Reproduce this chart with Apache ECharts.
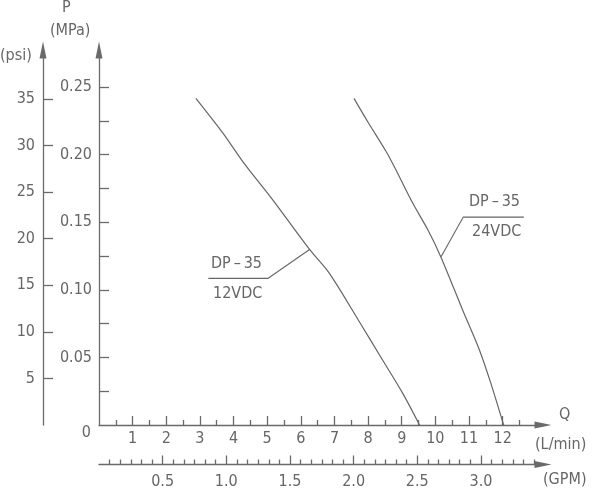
<!DOCTYPE html>
<html><head><meta charset="utf-8">
<script src="https://cdn.jsdelivr.net/npm/echarts@6/dist/echarts.min.js"></script>
<style>html,body{margin:0;padding:0;background:#fff}#c{width:600px;height:495px}</style>
</head><body><div id="c"></div>
<script>
// ---- data ----
const flow12 = [2.88, 3.69, 4.28, 5.17, 6.26, 6.85, 7.74, 8.43, 9.03, 9.53];          // L/min
const pres12 = [0.2416, 0.2157, 0.1947, 0.1664, 0.1299, 0.1122, 0.0764, 0.0481, 0.0234, 0]; // MPa
const flow24 = [7.58, 7.99, 8.54, 8.78, 9.33, 9.78, 10.16, 10.81, 11.31, 11.65, 12.03];
const pres24 = [0.2416, 0.2243, 0.2021, 0.1910, 0.1640, 0.1442, 0.1245, 0.0851, 0.0555, 0.0308, 0];
const leader12 = [[3.25, 0.1085], [5.03, 0.1085], [6.27, 0.1300]];
const leader24 = [[12.63, 0.1538], [10.83, 0.1538], [10.17, 0.1245]];
const lpmTicks = [1, 2, 3, 4, 5, 6, 7, 8, 9, 10, 11, 12];
const lpmHalfTicks = [0.5, 1.5, 2.5, 3.5, 4.5, 5.5, 6.5, 7.5, 8.5, 9.5, 10.5, 11.5, 12.5];
const gpmTicks = [0.5, 1.0, 1.5, 2.0, 2.5, 3.0];
const mpaLabels = [0, 0.05, 0.10, 0.15, 0.20, 0.25];
const mpaTicks = [0.025, 0.05, 0.075, 0.10, 0.125, 0.15, 0.175, 0.20, 0.225, 0.25];
const psiTicks = [5, 10, 15, 20, 25, 30, 35];

// ---- layout / style ----
const X_MAX = 13.2, Y_MAX = 0.2774, LPM_PER_GPM = 3.785, PSI_PER_MPA = 145.038;
const AX = '#6a6a6a', TX = '#666', FONT = '"Liberation Sans Narrow","DejaVu Sans Condensed","Liberation Sans",sans-serif';
const gpmMinor = [];
for (let k = 1; k <= 41; k++) { const v = k / 12; if (k % 6 !== 0 && v < X_MAX / LPM_PER_GPM) gpmMinor.push(v); }

const lineAx = (arrow) => ({ show: true, onZero: false, lineStyle: { color: AX, width: 1.3 },
  symbol: arrow ? ['none', 'triangle'] : 'none', symbolSize: [7, 17] });
const lbl = (extra) => Object.assign({ color: TX, fontSize: 16, fontFamily: FONT }, extra);
const tickStyle = { color: AX, width: 1.3 };

const chart = echarts.init(document.getElementById('c'), null, { renderer: 'canvas' });
chart.setOption({
  backgroundColor: '#fff',
  animation: false,
  grid: [
    { left: 99, top: 50, width: 444, height: 375, containLabel: false },
    { left: 99, top: 440, width: 444, height: 24.5, containLabel: false }
  ],
  xAxis: [
    { type: 'value', gridIndex: 0, min: 0, max: X_MAX, position: 'bottom', axisLine: lineAx(true),
      axisTick: { show: true, inside: true, length: 9, customValues: lpmTicks, lineStyle: tickStyle },
      axisLabel: lbl({ customValues: lpmTicks, margin: 6 }), splitLine: { show: false } },
    { type: 'value', gridIndex: 0, min: 0, max: X_MAX, position: 'bottom', axisLine: { show: false },
      axisTick: { show: true, inside: true, length: 5, customValues: lpmHalfTicks, lineStyle: tickStyle },
      axisLabel: { show: false }, splitLine: { show: false } },
    { type: 'value', gridIndex: 1, min: 0, max: X_MAX / LPM_PER_GPM, position: 'bottom', axisLine: lineAx(true),
      axisTick: { show: true, inside: true, length: 9, customValues: gpmTicks, lineStyle: tickStyle },
      axisLabel: lbl({ customValues: gpmTicks, margin: 9, formatter: v => v.toFixed(1) }), splitLine: { show: false } },
    { type: 'value', gridIndex: 1, min: 0, max: X_MAX / LPM_PER_GPM, position: 'bottom', axisLine: { show: false },
      axisTick: { show: true, inside: true, length: 5, customValues: gpmMinor, lineStyle: tickStyle },
      axisLabel: { show: false }, splitLine: { show: false } }
  ],
  yAxis: [
    { type: 'value', gridIndex: 0, min: 0, max: Y_MAX, position: 'left', axisLine: lineAx(true),
      axisTick: { show: true, inside: true, length: 10, customValues: mpaTicks, lineStyle: tickStyle },
      axisLabel: lbl({ customValues: mpaLabels, margin: 7,
        formatter: v => v === 0 ? '{o|0}' : v.toFixed(2),
        rich: { o: { color: TX, fontSize: 16, fontFamily: FONT, padding: [15, 1, 0, 0] } } }),
      splitLine: { show: false } },
    { type: 'value', gridIndex: 0, min: 0, max: Y_MAX * PSI_PER_MPA, position: 'left', offset: 56, axisLine: lineAx(true),
      axisTick: { show: true, inside: true, length: 10, customValues: psiTicks, lineStyle: tickStyle },
      axisLabel: lbl({ customValues: psiTicks, margin: 8 }), splitLine: { show: false } },
    { type: 'value', gridIndex: 1, min: 0, max: 1, show: false }
  ],
  series: [
    { type: 'line', xAxisIndex: 0, yAxisIndex: 0, smooth: 0.3, showSymbol: false, symbol: 'none',
      lineStyle: { color: '#666', width: 1.2 }, data: flow12.map((q, i) => [q, pres12[i]]) },
    { type: 'line', xAxisIndex: 0, yAxisIndex: 0, smooth: 0.3, showSymbol: false, symbol: 'none',
      lineStyle: { color: '#666', width: 1.2 }, data: flow24.map((q, i) => [q, pres24[i]]) },
    { type: 'line', xAxisIndex: 0, yAxisIndex: 0, showSymbol: false, symbol: 'none',
      lineStyle: { color: '#666', width: 1.1 }, data: leader12 },
    { type: 'line', xAxisIndex: 0, yAxisIndex: 0, showSymbol: false, symbol: 'none',
      lineStyle: { color: '#666', width: 1.1 }, data: leader24 }
  ],
  graphic: [
    { type: 'text', left: 62, top: 0, style: { text: 'P', fill: TX, font: '16px ' + FONT } },
    { type: 'text', left: 50, top: 23, style: { text: '(MPa)', fill: TX, font: '16px ' + FONT } },
    { type: 'text', left: 0, top: 48, style: { text: '(psi)', fill: TX, font: '16px ' + FONT } },
    { type: 'text', left: 559, top: 407, style: { text: 'Q', fill: TX, font: '16px ' + FONT } },
    { type: 'text', left: 535, top: 437, style: { text: '(L/min)', fill: TX, font: '16px ' + FONT } },
    { type: 'text', left: 543, top: 472, style: { text: '(GPM)', fill: TX, font: '16px ' + FONT } },
    { type: 'text', left: 211, top: 256, style: { text: 'DP\u2009\u2013\u200935', fill: TX, font: '16px ' + FONT } },
    { type: 'text', left: 213, top: 286, style: { text: '12VDC', fill: TX, font: '16px ' + FONT } },
    { type: 'text', left: 469, top: 194, style: { text: 'DP\u2009\u2013\u200935', fill: TX, font: '16px ' + FONT } },
    { type: 'text', left: 472, top: 224, style: { text: '24VDC', fill: TX, font: '16px ' + FONT } }
  ]
});
</script></body></html>
